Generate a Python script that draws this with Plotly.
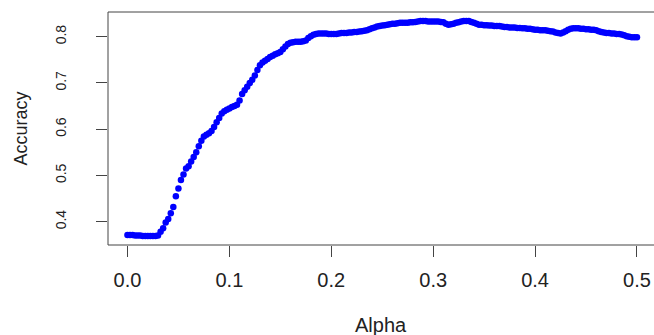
import plotly.graph_objects as go

accuracy = [
    0.371, 0.371, 0.371, 0.370, 0.370, 0.370, 0.369, 0.369,
    0.369, 0.369, 0.369, 0.369, 0.370, 0.378, 0.386, 0.398,
    0.406, 0.418, 0.432, 0.455, 0.472, 0.490, 0.502, 0.515,
    0.520, 0.530, 0.540, 0.550, 0.563, 0.575, 0.584, 0.588,
    0.591, 0.596, 0.605, 0.615, 0.624, 0.634, 0.639, 0.642,
    0.645, 0.648, 0.650, 0.653, 0.662, 0.676, 0.684, 0.692,
    0.700, 0.707, 0.716, 0.728, 0.738, 0.744, 0.748, 0.752,
    0.756, 0.759, 0.762, 0.764, 0.767, 0.773, 0.779, 0.784,
    0.787, 0.788, 0.789, 0.789, 0.789, 0.790, 0.792, 0.797,
    0.801, 0.804, 0.806, 0.807, 0.807, 0.807, 0.807, 0.806,
    0.806, 0.806, 0.806, 0.807, 0.808, 0.808, 0.808, 0.809,
    0.809, 0.810, 0.810, 0.811, 0.812, 0.813, 0.814, 0.816,
    0.818, 0.820, 0.822, 0.823, 0.824, 0.825, 0.826, 0.827,
    0.828, 0.828, 0.829, 0.830, 0.830, 0.830, 0.830, 0.831,
    0.831, 0.832, 0.833, 0.834, 0.834, 0.834, 0.833, 0.833,
    0.833, 0.833, 0.833, 0.832, 0.831, 0.828, 0.826, 0.827,
    0.828, 0.830, 0.831, 0.833, 0.834, 0.834, 0.834, 0.832,
    0.830, 0.828, 0.826, 0.826, 0.825, 0.825, 0.824, 0.824,
    0.823, 0.823, 0.823, 0.822, 0.821, 0.821, 0.820, 0.820,
    0.820, 0.819, 0.819, 0.818, 0.818, 0.817, 0.817, 0.816,
    0.815, 0.815, 0.814, 0.814, 0.814, 0.813, 0.812, 0.811,
    0.809, 0.808, 0.807, 0.809, 0.812, 0.815, 0.817, 0.818,
    0.818, 0.818, 0.817, 0.817, 0.816, 0.816, 0.815, 0.815,
    0.814, 0.812, 0.810, 0.809, 0.808, 0.808, 0.807, 0.807,
    0.806, 0.806, 0.805, 0.803, 0.801, 0.800, 0.799, 0.799,
    0.799,
]
alpha_step = 0.0025
alpha = [round(i * alpha_step, 4) for i in range(len(accuracy))]

x_ticks = [0.0, 0.1, 0.2, 0.3, 0.4, 0.5]
x_tick_labels = ["0.0", "0.1", "0.2", "0.3", "0.4", "0.5"]
y_ticks = [0.4, 0.5, 0.6, 0.7, 0.8]
y_tick_labels = ["0.4", "0.5", "0.6", "0.7", "0.8"]

font = "Liberation Sans, Arial, sans-serif"
axcol = "#444444"
txtcol = "#222222"

fig = go.Figure(go.Scatter(
    x=alpha, y=accuracy, mode="markers",
    marker=dict(color="#0000ff", size=6.5, line=dict(width=0)),
))

fig.update_layout(
    width=654, height=335,
    margin=dict(l=108, r=0, t=12, b=90),
    paper_bgcolor="white", plot_bgcolor="white",
    showlegend=False,
    font=dict(family=font, size=14, color=txtcol),
    xaxis=dict(
        range=[-0.0191, 0.5167], tickvals=x_ticks, ticktext=x_tick_labels,
        showgrid=False, zeroline=False, showline=False,
        ticks="outside", ticklen=11,
        tickcolor=axcol, tickwidth=1, ticklabelstandoff=6,
        tickfont=dict(family=font, size=20, color=txtcol),
    ),
    yaxis=dict(
        range=[0.3496, 0.8534], tickvals=y_ticks, ticktext=y_tick_labels,
        showgrid=False, zeroline=False, showline=False,
        ticks="outside", ticklen=11, tickcolor=axcol,
        tickwidth=1, tickangle=-90, ticklabelstandoff=24,
        tickfont=dict(family=font, size=14, color=txtcol),
    ),
    shapes=[
        dict(type="line", xref="paper", yref="paper", x0=0, x1=1, y0=1, y1=1,
             line=dict(color=axcol, width=1)),
        dict(type="line", xref="paper", yref="paper", x0=0, x1=1, y0=0, y1=0,
             line=dict(color=axcol, width=1)),
        dict(type="line", xref="paper", yref="paper", x0=0, x1=0, y0=0, y1=1,
             line=dict(color=axcol, width=1)),
    ],
    annotations=[
        dict(text="Alpha", xref="paper", yref="paper", x=0.5, y=0,
             xanchor="center", yanchor="middle", yshift=-80,
             showarrow=False, font=dict(family=font, size=20, color=txtcol)),
        dict(text="Accuracy", xref="paper", yref="paper", x=0, y=0.5,
             xanchor="center", yanchor="middle", xshift=-88, textangle=-90,
             showarrow=False, font=dict(family=font, size=18, color=txtcol)),
    ],
)

fig.write_html("out.html")
